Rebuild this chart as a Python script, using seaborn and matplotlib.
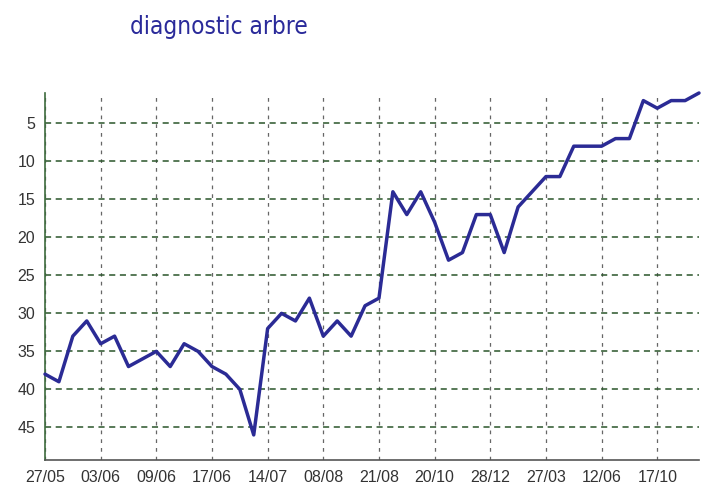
import matplotlib
matplotlib.use("Agg")
import matplotlib.pyplot as plt
import seaborn as sns
import pandas as pd

title = "diagnostic arbre"
rank = [38, 39, 33, 31, 34, 33, 37, 36, 35, 37,
        34, 35, 37, 38, 40, 46, 32, 30, 31, 28,
        33, 31, 33, 29, 28, 14, 17, 14, 18, 23,
        22, 17, 17, 22, 16, 14, 12, 12, 8, 8,
        8, 7, 7, 2, 3, 2, 2, 1]
tick_labels = ["27/05", "03/06", "09/06", "17/06", "14/07", "08/08",
               "21/08", "20/10", "28/12", "27/03", "12/06", "17/10"]
y_ticks = [5, 10, 15, 20, 25, 30, 35, 40, 45]

df = pd.DataFrame({"idx": list(range(len(rank))), "rank": rank})

sns.set_style("white")
plt.rcParams['font.family'] = ['Liberation Sans', 'DejaVu Sans']

fig = plt.figure(figsize=(7.2, 5.04), dpi=100)
ax = fig.add_axes([45/720, 1 - 460/504, (699 - 45)/720, (460 - 93)/504])

sns.lineplot(data=df, x="idx", y="rank", ax=ax, color="#2b2b95",
             linewidth=2.5, clip_on=False, zorder=5)

ax.set_xlim(0, len(rank) - 1)
ax.set_ylim(49.3, 1.0)

ax.set_xticks(list(range(0, len(rank), 4))[:len(tick_labels)])
ax.set_xticklabels(tick_labels)
ax.set_yticks(y_ticks)

ax.set_xlabel("")
ax.set_ylabel("")

for s in ["top", "right"]:
    ax.spines[s].set_visible(False)
ax.spines["left"].set_color("#3d6b3d")
ax.spines["left"].set_linewidth(1.2)
ax.spines["bottom"].set_color("#555555")
ax.spines["bottom"].set_linewidth(1.2)

ax.yaxis.grid(True, color="#2a552a", linestyle=(0, (4, 3)), linewidth=1.1)
ax.xaxis.grid(True, color="#666666", linestyle=(0, (3, 4)), linewidth=0.9)
ax.set_axisbelow(True)

ax.tick_params(axis="both", which="both", direction="out", length=4,
               width=1, labelsize=11.5, labelcolor="#333333", pad=3)
ax.tick_params(axis="y", colors="#3d6b3d", labelcolor="#333333")
ax.tick_params(axis="x", colors="#555555", labelcolor="#333333")

fig.text(130/720, 1 - 27/504, title, color="#2a2a9a", fontsize=17.5,
         ha="left", va="center", family=["DejaVu Sans"], stretch="condensed")

fig.savefig("out.png", dpi=100, facecolor="white")
